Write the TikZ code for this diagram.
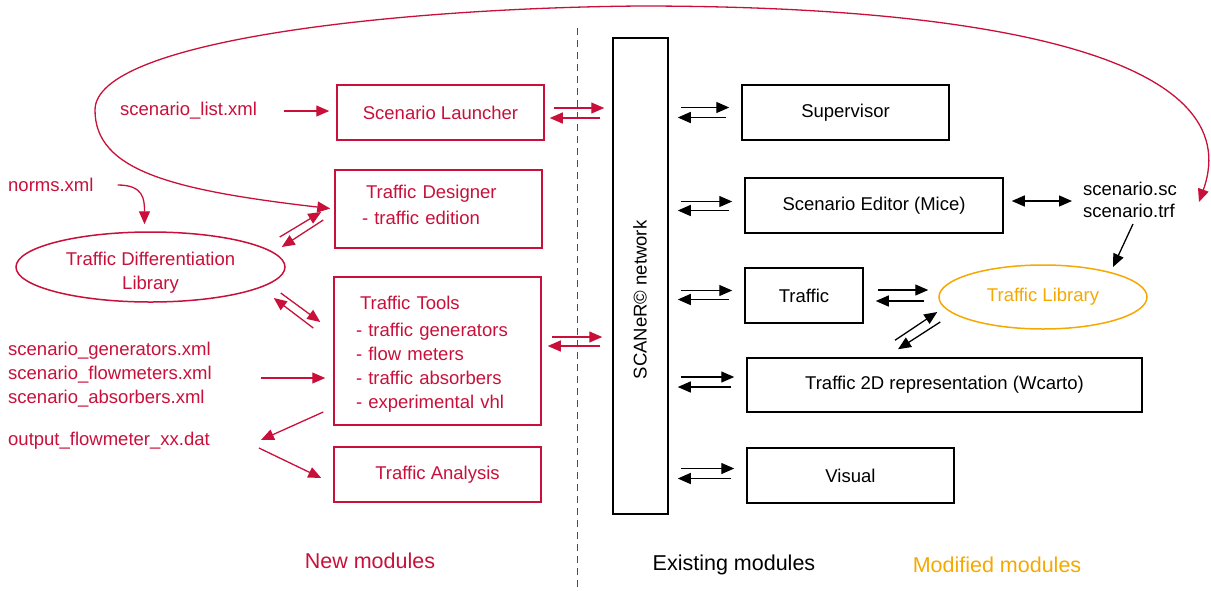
\documentclass[tikz,border=0pt]{standalone}
\usepackage{fontspec}
\setmainfont{Liberation Sans}
\usepackage{xcolor}
\usepackage{tikz}
\usetikzlibrary{positioning,arrows.meta,shapes.geometric,calc}
\definecolor{newred}{RGB}{200,16,58}
\definecolor{modorange}{RGB}{245,168,0}

\begin{document}
\begin{tikzpicture}[x=1pt,y=-1pt,
    txt/.style={font=\fontsize{18.5}{24}\selectfont,inner sep=0pt},
    bigtxt/.style={font=\fontsize{21.5}{26}\selectfont,inner sep=0pt},
    redbox/.style={draw=newred,line width=1.5pt,text=newred,txt,minimum width=207pt,minimum height=55pt},
    blkbox/.style={draw=black,line width=1.5pt,txt,minimum width=207pt,minimum height=55pt},
    redarr/.style={draw=newred,line width=1.3pt,-{Triangle[length=13pt,width=11pt]}},
    blkarr/.style={draw=black,line width=1.3pt,-{Triangle[length=13pt,width=11pt]}}]
    \useasboundingbox (0,0) rectangle (1211,590);
    % separation new / existing
    \draw[newred,line width=1pt,dash pattern=on 7pt off 5pt] (577,28) -- (577,590);
    % new modules (left side)
    \node[redbox] (launcher) at (440.5,112.5) {Scenario Launcher};
    \node[redbox,minimum height=78pt,align=left,text width=153pt,inner xsep=27pt,text depth=34pt] (designer) at (438.5,209)
      {\hspace*{4pt}Traffic Designer\\[2pt]- traffic edition};
    \node[redbox,minimum height=148pt,align=left,text width=163pt,inner xsep=22pt,text height=20pt] (tools) at (437.5,351)
      {\hspace*{4pt}Traffic Tools\\[3pt]- traffic generators\\- flow meters\\- traffic absorbers\\- experimental vhl};
    \node[redbox] (analysis) at (437.5,474.5) {Traffic Analysis};
    \node[ellipse,draw=newred,line width=1.5pt,text=newred,txt,align=center,minimum width=269pt,minimum height=70pt,
      text height=47.5pt,text depth=2pt] (difflib) at (150.5,267) {Traffic Differentiation\\Library};
    \node[txt,text=newred,anchor=west] (norms) at (8,185) {norms.xml};
    \node[txt,text=newred,anchor=west] (scnlist) at (120,111) {scenario\_list.xml};
    \node[txt,text=newred,anchor=west,align=left] (scnfiles) at (8,375)
      {scenario\_generators.xml\\scenario\_flowmeters.xml\\scenario\_absorbers.xml};
    \node[txt,text=newred,anchor=west] (output) at (8,441) {output\_flowmeter\_xx.dat};
    % existing modules (right side)
    \node[blkbox,minimum width=55pt,minimum height=476pt] (net) at (640.5,276) {};
    \node[txt,rotate=90] (netlbl) at (640,300) {SCANeR© network};
    \node[blkbox] (sup) at (845.5,112.5) {Supervisor};
    \node[blkbox,minimum width=258pt] (editor) at (874,205.5) {Scenario Editor (Mice)};
    \node[blkbox,minimum width=118pt] (traf) at (804,295.5) {Traffic};
    \node[blkbox,minimum width=395pt,minimum height=54pt] (carto) at (944.5,385) {Traffic 2D representation (Wcarto)};
    \node[blkbox] (visual) at (850.5,475.5) {Visual};
    \node[ellipse,draw=modorange,line width=1.5pt,text=modorange,txt,minimum width=208pt,minimum height=64pt]
      (trlib) at (1043,297) {Traffic Library};
    \node[txt,anchor=west,align=left,font=\fontsize{18.5}{22}\selectfont] (files) at (1083,200) {scenario.sc\\scenario.trf};
    % legend
    \node[bigtxt,text=newred] (lgnew) at (370,561) {New modules};
    \node[bigtxt] (lgold) at (734,565) {Existing modules};
    \node[bigtxt,text=modorange] (lgmod) at (997,565) {Modified modules};

    % inputs / outputs of the new modules
    \draw[redarr,shorten <=27pt,shorten >=7pt] (scnlist.east) -- (scnlist.east -| launcher.west);
    \draw[redarr,shorten <=24pt] (norms.east) .. controls +(50,0) and +(0,-25) .. ($(difflib.north)+(-6,-7)$);
    \draw[redarr,shorten <=49pt,shorten >=8pt] ($(scnfiles.east)+(0,3)$) -- ($(scnfiles.east -| tools.west)+(0,3)$);
    \draw[redarr] ($(tools.west)+(-10,61)$) -- ($(output.east)+(51,-1)$);
    \draw[redarr] ($(output.east)+(49,7)$) -- ($(analysis.west)+(-12,3.5)$);
    % library <-> designer / tools
    \draw[redarr] ($(difflib.east)+(-6,-30)$) -- ($(designer.west)+(-13,3)$);
    \draw[redarr] ($(designer.west)+(-11,11)$) -- ($(difflib.east)+(-4,-20)$);
    \draw[redarr] ($(difflib.east)+(-5,26)$) -- ($(tools.west)+(-13,-29)$);
    \draw[redarr] ($(tools.west)+(-20,-23)$) -- ($(difflib.east)+(-12,31)$);
    % new modules <-> network
    \draw[redarr,shorten <=9pt,shorten >=8pt] ($(launcher.east)+(0,-4.5)$) -- ($(launcher.east -| net.west)+(0,-4.5)$);
    \draw[redarr,shorten <=12pt,shorten >=5pt] ($(launcher.east -| net.west)+(0,5.5)$) -- ($(launcher.east)+(0,5.5)$);
    \draw[redarr,shorten <=10pt,shorten >=10pt] ($(tools.east)+(0,-14)$) -- ($(tools.east -| net.west)+(0,-14)$);
    \draw[redarr,shorten <=12pt,shorten >=6pt] ($(tools.east -| net.west)+(0,-5)$) -- ($(tools.east)+(0,-5)$);
    % network <-> existing modules
    \foreach \b/\u/\l in {sup/-5/5, editor/-4/5, traf/-5/4, carto/-8/2, visual/-7/3} {
      \draw[blkarr,shorten <=12pt,shorten >=12pt] ($(net.east |- \b.west)+(0,\u)$) -- ($(\b.west)+(0,\u)$);
      \draw[blkarr,shorten <=15pt,shorten >=9pt] ($(\b.west)+(0,\l)$) -- ($(net.east |- \b.west)+(0,\l)$);
    }
    % traffic library links
    \draw[blkarr,shorten <=14pt,shorten >=10pt] ($(traf.east)+(0,-5.5)$) -- ($(traf.east -| trlib.west)+(0,-5.5)$);
    \draw[blkarr,shorten <=14pt,shorten >=12pt] ($(traf.east -| trlib.west)+(0,5.5)$) -- ($(traf.east)+(0,5.5)$);
    \draw[blkarr] ($(carto.north)+(-49.5,-17)$) -- ($(trlib.west)+(-1,15)$);
    \draw[blkarr] ($(trlib.west)+(2,25)$) -- ($(carto.north)+(-46.5,-8)$);
    \draw[blkarr,{Triangle[length=13pt,width=11pt]}-{Triangle[length=13pt,width=11pt]},shorten <=8pt,shorten >=11pt]
      ($(files.west -| editor.east)+(0,1)$) -- ($(files.west)+(0,1)$);
    \draw[blkarr] ($(files.south)+(3,6)$) -- ($(trlib.center)+(70,-30)$);
    % big loop: scenario files <-> traffic designer
    \draw[redarr,{Triangle[length=13pt,width=11pt]}-{Triangle[length=13pt,width=11pt]},shorten >=4pt]
      ($(files.east)+(22,2)$) .. controls (1250,60) and (1000,6) .. (640,6)
      .. controls (400,8) and (95,40) .. (95,110)
      .. controls (95,170) and (170,190) .. (designer.west);
\end{tikzpicture}
\end{document}
